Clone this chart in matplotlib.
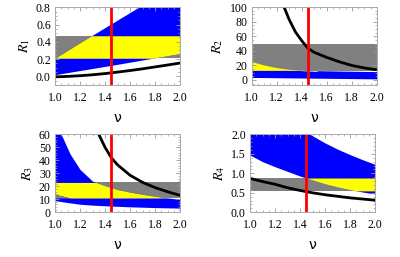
import numpy as np
import matplotlib
matplotlib.use("Agg")
import matplotlib.pyplot as plt
from matplotlib.ticker import MultipleLocator

plt.rcParams['font.family'] = 'Liberation Serif'
plt.rcParams['mathtext.fontset'] = 'stix'

BLUE = '#0000ff'
YELLOW = '#ffff00'
GREY = '#808080'
NU_MARK = 1.45

# ---- R1 ----
r1_band = (0.21, 0.47)
r1_up_x = [1.0, 1.2, 1.4, 1.6, 1.67, 2.0]
r1_up_y = [0.21, 0.39, 0.565, 0.74, 0.8, 0.8]
r1_lo_x = [1.0, 1.5, 2.0]
r1_lo_y = [0.02, 0.14, 0.265]
r1_cur_x = [1.0, 1.1, 1.2, 1.3, 1.4, 1.5, 1.6, 1.7, 1.8, 1.9, 2.0]
r1_cur_y = [-0.005, 0.0, 0.008, 0.019, 0.033, 0.05, 0.068, 0.088, 0.11, 0.132, 0.155]

# ---- R2 ----
r2_band = (12.5, 50)
r2_up_x = [1.0, 1.1, 1.2, 1.3, 1.4, 1.5, 1.52, 1.53, 1.7, 2.0]
r2_up_y = [25, 20, 16.5, 14, 12.8, 12.0, 12.0, 12.8, 12.3, 11.5]
r2_lo_x = [1.0, 1.5, 2.0]
r2_lo_y = [3.5, 2.5, 1.5]
r2_cur_x = [1.26, 1.3, 1.35, 1.4, 1.45, 1.5, 1.6, 1.7, 1.8, 1.9, 2.0]
r2_cur_y = [100, 83, 66, 54, 43.5, 38, 31, 25, 20, 16.5, 14]

# ---- R3 ----
r3_band = (11, 23)
r3_up_x = [1.0, 1.05, 1.12, 1.2, 1.3, 1.4, 1.5, 1.6, 1.7, 1.8, 1.9, 2.0]
r3_up_y = [60, 60, 45, 33, 24, 20.5, 17.5, 15.5, 13.8, 12.3, 11, 10]
r3_lo_x = [1.0, 1.1, 1.2, 1.3, 1.4, 1.5, 1.6, 1.7, 1.8, 1.9, 2.0]
r3_lo_y = [9, 7.5, 6.2, 5.5, 5, 4.6, 4.2, 3.9, 3.6, 3.4, 3.2]
r3_gap_x = [1.0, 1.06, 1.12]
r3_gap_y = [14, 12.5, 11]
r3_cur_x = [1.35, 1.4, 1.45, 1.5, 1.6, 1.7, 1.8, 1.9, 2.0]
r3_cur_y = [60, 50, 42, 36.5, 28.5, 23, 19, 15.8, 13]

# ---- R4 ----
r4_band = (0.55, 0.88)
r4_up_x = [1.0, 1.48, 1.6, 1.7, 1.8, 1.9, 2.0]
r4_up_y = [2.0, 2.0, 1.78, 1.62, 1.48, 1.35, 1.23]
r4_lo_x = [1.0, 1.1, 1.2, 1.3, 1.4, 1.5, 1.6, 1.7, 1.8, 1.9, 2.0]
r4_lo_y = [1.47, 1.3, 1.17, 1.05, 0.93, 0.83, 0.73, 0.65, 0.58, 0.52, 0.47]
r4_cur_x = [1.0, 1.1, 1.2, 1.3, 1.4, 1.5, 1.6, 1.7, 1.8, 1.9, 2.0]
r4_cur_y = [0.87, 0.79, 0.72, 0.63, 0.56, 0.50, 0.45, 0.41, 0.37, 0.34, 0.31]


def panel(ax, band, up_x, up_y, lo_x, lo_y, cur_x, cur_y, ylim, ymaj, ymin,
          label, gap=None):
    nu = np.linspace(1.0, 2.0, 400)
    up = np.interp(nu, up_x, up_y)
    lo = np.interp(nu, lo_x, lo_y)
    ax.fill_between([1.0, 2.0], band[0], band[1], color=GREY, lw=0)
    ax.fill_between(nu, lo, up, color=BLUE, lw=0)
    ybot = np.full_like(nu, band[0])
    if gap is not None:
        g = np.interp(nu, gap[0], gap[1], right=band[0])
        ybot = np.maximum(ybot, g)
    ytop = np.minimum(up, band[1])
    ybot2 = np.maximum(ybot, lo)
    ax.fill_between(nu, ybot2, ytop, where=ytop > ybot2, color=YELLOW, lw=0)
    if gap is not None:
        ax.fill_between(nu, band[0], ybot, where=ybot > band[0], color=GREY, lw=0)
    ax.plot(cur_x, cur_y, color='black', lw=2.0, solid_capstyle='butt')
    ax.axvline(NU_MARK, color='#ff0000', lw=2.0)
    ax.set_xlim(1.0, 2.0)
    ax.set_ylim(*ylim)
    ax.xaxis.set_major_locator(MultipleLocator(0.2))
    ax.xaxis.set_minor_locator(MultipleLocator(0.05))
    ax.yaxis.set_major_locator(MultipleLocator(ymaj))
    ax.yaxis.set_minor_locator(MultipleLocator(ymin))
    ax.tick_params(which='both', direction='in', top=True, right=True,
                   color='#999999', labelsize=8.5)
    ax.tick_params(axis='x', pad=5)
    ax.tick_params(axis='y', pad=3)
    ax.tick_params(which='major', length=3, width=0.6)
    ax.tick_params(which='minor', length=1.5, width=0.5)
    for s in ax.spines.values():
        s.set_color('#aaaaaa')
        s.set_linewidth(0.7)
    ax.set_xlabel('ν', fontsize=10, family='DejaVu Sans', labelpad=5)
    ax.set_ylabel(label, fontsize=10, labelpad=3)


fig = plt.figure(figsize=(4.0, 2.57), dpi=100)
w, h = 0.313, 0.303
ax1 = fig.add_axes([0.1375, 0.669, w, h])
ax2 = fig.add_axes([0.629, 0.669, w, h])
ax3 = fig.add_axes([0.1375, 0.174, w, h])
ax4 = fig.add_axes([0.625, 0.174, w, h])

panel(ax1, r1_band, r1_up_x, r1_up_y, r1_lo_x, r1_lo_y, r1_cur_x, r1_cur_y,
      (-0.1, 0.8), 0.2, 0.05, '$R_1$')
panel(ax2, r2_band, r2_up_x, r2_up_y, r2_lo_x, r2_lo_y, r2_cur_x, r2_cur_y,
      (-7, 100), 20, 5, '$R_2$')
panel(ax3, r3_band, r3_up_x, r3_up_y, r3_lo_x, r3_lo_y, r3_cur_x, r3_cur_y,
      (0, 60), 10, 2, '$R_3$', gap=(r3_gap_x, r3_gap_y))
panel(ax4, r4_band, r4_up_x, r4_up_y, r4_lo_x, r4_lo_y, r4_cur_x, r4_cur_y,
      (0, 2.0), 0.5, 0.1, '$R_4$')

fig.savefig('out.png', dpi=100)
